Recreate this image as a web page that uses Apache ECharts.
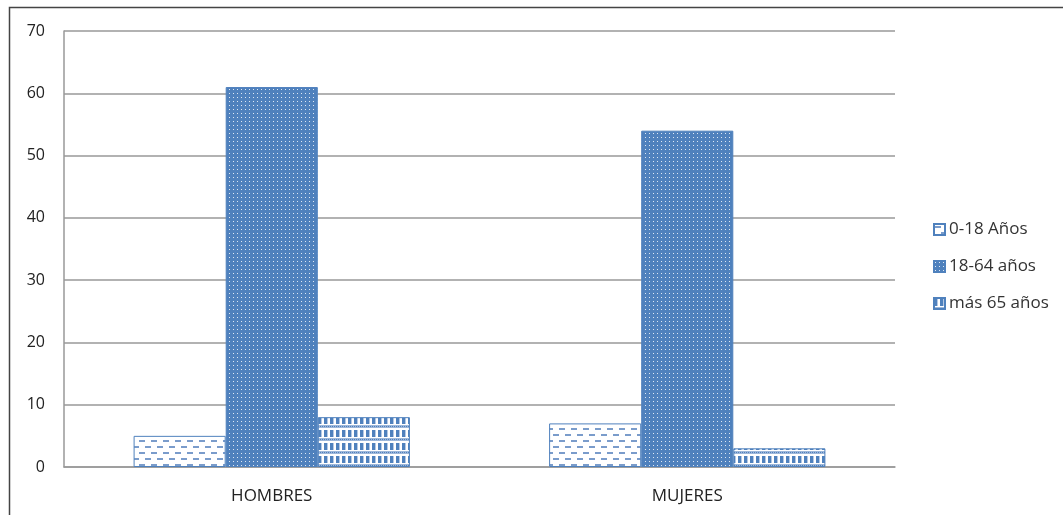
<!DOCTYPE html>
<html>
<head>
<meta charset="utf-8">
<script src="https://cdn.jsdelivr.net/npm/echarts@6/dist/echarts.min.js"></script>
<style>
html,body{margin:0;padding:0;background:#fff;}
#c{width:1063px;height:515px;}
</style>
</head>
<body>
<div id="c"></div>
<script>
var categories = ['HOMBRES', 'MUJERES'];
var seriesNames = ['0-18 Años', '18-64 años', 'más 65 años'];
var s0_18 = [5, 7];
var s18_64 = [61, 54];
var s65 = [8, 3];
var yTicks = [0, 10, 20, 30, 40, 50, 60, 70];

var BLUE = '#4F81BD';
function tile(w, h, draw) {
  var c = document.createElement('canvas');
  c.width = w; c.height = h;
  var g = c.getContext('2d');
  draw(g);
  return c;
}
var pat1 = tile(12, 12, function (g) {
  g.fillStyle = '#fff'; g.fillRect(0, 0, 12, 12);
  g.fillStyle = '#7a9ccb';
  g.fillRect(1, 2, 6, 2);
  g.fillRect(7, 8, 5, 2);
  g.fillRect(0, 8, 1, 2);
});
var pat2 = tile(4, 4, function (g) {
  g.fillStyle = BLUE; g.fillRect(0, 0, 4, 4);
  g.fillStyle = '#dfe8f3';
  g.fillRect(1, 1, 1, 1);
});
var pat3 = tile(6, 13, function (g) {
  g.fillStyle = '#fff'; g.fillRect(0, 0, 6, 13);
  g.fillStyle = BLUE;
  g.fillRect(0, 1, 3, 7);
  g.fillStyle = '#b5c8e3';
  g.fillRect(3, 1, 1, 7);
  g.fillStyle = '#9db7da';
  g.fillRect(0, 9, 6, 3);
  g.fillStyle = BLUE;
  g.fillRect(0, 10, 1, 1); g.fillRect(2, 10, 1, 1); g.fillRect(4, 10, 1, 1);
});

var fontFam = '"Open Sans", Lato, sans-serif';
var chart = echarts.init(document.getElementById('c'), null, { renderer: 'canvas' });
chart.setOption({
  animation: false,
  backgroundColor: '#fff',
  graphic: [{
    type: 'rect', shape: { x: 9.5, y: 7.5, width: 1100, height: 600 },
    style: { fill: 'none', stroke: '#444', lineWidth: 1.5 }, z: 100, silent: true
  }],
  grid: { left: 64, right: 168, top: 31, bottom: 48 },
  legend: {
    orient: 'vertical', left: 928, top: 216, itemGap: 20,
    itemWidth: 11, itemHeight: 11,
    textStyle: { fontFamily: fontFam, fontSize: 17, color: '#333', padding: [0, 0, 0, -1] },
    data: seriesNames.map(function (n) { return { name: n, icon: 'rect' }; })
  },
  xAxis: {
    type: 'category', data: categories,
    axisLine: { lineStyle: { color: '#999', width: 1.5 } },
    axisTick: { show: false },
    axisLabel: { fontFamily: fontFam, fontSize: 17, color: '#222', margin: 21 }
  },
  yAxis: {
    type: 'value', min: 0, max: 70, interval: 10,
    axisLine: { show: true, lineStyle: { color: '#999', width: 1.5 } },
    axisTick: { show: false },
    splitLine: { lineStyle: { color: '#999', width: 1.5 } },
    axisLabel: {
      fontFamily: fontFam, fontSize: 16, color: '#222', margin: 19,
      formatter: function (v) { return yTicks.indexOf(v) >= 0 ? String(v) : ''; }
    }
  },
  series: [
    { name: seriesNames[0], type: 'bar', data: s0_18, barGap: '0%', barCategoryGap: '33.5%',
      itemStyle: { color: { image: pat1, repeat: 'repeat' }, borderColor: BLUE, borderWidth: 1 } },
    { name: seriesNames[1], type: 'bar', data: s18_64,
      itemStyle: { color: { image: pat2, repeat: 'repeat' }, borderColor: BLUE, borderWidth: 1 } },
    { name: seriesNames[2], type: 'bar', data: s65,
      itemStyle: { color: { image: pat3, repeat: 'repeat' }, borderColor: BLUE, borderWidth: 1 } }
  ]
});
</script>
</body>
</html>
